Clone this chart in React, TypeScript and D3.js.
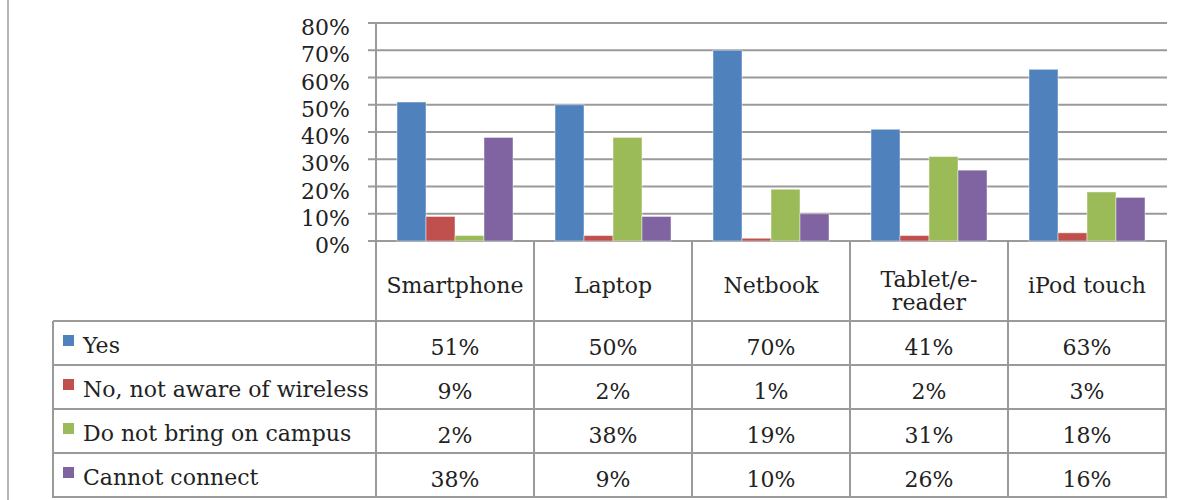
import { useEffect, useRef } from "react";
import * as d3 from "d3";

const categories = ["Smartphone", "Laptop", "Netbook", "Tablet/e-reader", "iPod touch"];
const categoryLines: Record<string, string[]> = {
  "Tablet/e-reader": ["Tablet/e-", "reader"],
};
const seriesNames = ["Yes", "No, not aware of wireless", "Do not bring on campus", "Cannot connect"];
const seriesColors = ["#4F81BD", "#C0504D", "#9BBB59", "#8064A2"];
const yesValues = [0.51, 0.5, 0.7, 0.41, 0.63];
const notAwareValues = [0.09, 0.02, 0.01, 0.02, 0.03];
const notBringValues = [0.02, 0.38, 0.19, 0.31, 0.18];
const cannotConnectValues = [0.38, 0.09, 0.1, 0.26, 0.16];
const yTicks = [0, 0.1, 0.2, 0.3, 0.4, 0.5, 0.6, 0.7, 0.8];

const W = 1183;
const H = 500;
const FONT = "'DejaVu Serif', serif";
const LINE = "#9a9a9a";

export default function App() {
  const svgRef = useRef<SVGSVGElement>(null);

  useEffect(() => {
    if (!svgRef.current) return;
    const svg = d3.select(svgRef.current);
    svg.selectAll("*").remove();

    const allSeries = [yesValues, notAwareValues, notBringValues, cannotConnectValues];

    const plotLeft = 376;
    const plotRight = 1166;
    const plotTop = 23;
    const plotBottom = 241;
    const rowTop = 321;
    const rowH = 44;
    const tableLeft = 53;

    const x0 = d3.scaleBand<string>().domain(categories).range([plotLeft, plotRight]).padding(0);
    const x1 = d3
      .scaleBand<string>()
      .domain(seriesNames)
      .range([21, x0.bandwidth() - 21])
      .padding(0);
    const y = d3.scaleLinear().domain([0, 0.8]).range([plotBottom, plotTop]);

    // outer left border of the chart frame
    svg
      .append("line")
      .attr("x1", 8)
      .attr("x2", 8)
      .attr("y1", 0)
      .attr("y2", H)
      .attr("stroke", "#b5b5b5")
      .attr("stroke-width", 2);

    // gridlines + y ticks
    svg
      .append("g")
      .selectAll("line")
      .data(yTicks)
      .enter()
      .append("line")
      .attr("x1", plotLeft - 8)
      .attr("x2", plotRight + 1)
      .attr("y1", (d) => y(d))
      .attr("y2", (d) => y(d))
      .attr("stroke", LINE)
      .attr("stroke-width", 2);

    svg
      .append("g")
      .selectAll("text")
      .data(yTicks)
      .enter()
      .append("text")
      .attr("x", 350)
      .attr("y", (d) => y(d) + 12)
      .attr("text-anchor", "end")
      .style("font-family", FONT)
      .style("font-size", "22px")
      .style("fill", "#222")
      .text((d) => d3.format(".0%")(d));

    // bars
    const groups = svg
      .append("g")
      .selectAll("g")
      .data(categories)
      .enter()
      .append("g")
      .attr("transform", (d) => `translate(${x0(d)},0)`);

    groups
      .selectAll("rect")
      .data((_d, ci) => allSeries.map((s, si) => ({ name: seriesNames[si], value: s[ci], color: seriesColors[si] })))
      .enter()
      .append("rect")
      .attr("x", (d) => x1(d.name)!)
      .attr("y", (d) => y(d.value))
      .attr("width", x1.bandwidth())
      .attr("height", (d) => plotBottom - y(d.value))
      .attr("fill", (d) => d.color)
      .attr("stroke", "rgba(255,255,255,0.45)")
      .attr("stroke-width", 1);

    // table lines
    const tableBottom = rowTop + rowH * seriesNames.length;
    const hLines = d3.range(seriesNames.length + 1).map((i) => rowTop + i * rowH);
    svg
      .append("g")
      .selectAll("line")
      .data(hLines)
      .enter()
      .append("line")
      .attr("x1", tableLeft)
      .attr("x2", plotRight + 1)
      .attr("y1", (d) => d)
      .attr("y2", (d) => d)
      .attr("stroke", LINE)
      .attr("stroke-width", 2);

    const vLines = [...categories.map((c) => x0(c)!), plotRight];
    svg
      .append("g")
      .selectAll("line")
      .data(vLines)
      .enter()
      .append("line")
      .attr("x1", (d) => d)
      .attr("x2", (d) => d)
      .attr("y1", (_d, i) => (i === 0 ? plotTop - 1 : plotBottom))
      .attr("y2", tableBottom + 1)
      .attr("stroke", LINE)
      .attr("stroke-width", 2);

    svg
      .append("line")
      .attr("x1", tableLeft)
      .attr("x2", tableLeft)
      .attr("y1", rowTop)
      .attr("y2", tableBottom + 1)
      .attr("stroke", LINE)
      .attr("stroke-width", 2);

    // category header labels
    const header = svg
      .append("g")
      .selectAll("text")
      .data(categories)
      .enter()
      .append("text")
      .attr("text-anchor", "middle")
      .style("font-family", FONT)
      .style("font-size", "22px")
      .style("fill", "#222");
    header.each(function (c) {
      const lines = categoryLines[c] ?? [c];
      const cx = x0(c)! + x0.bandwidth() / 2;
      const startY = lines.length === 1 ? 293 : 287;
      lines.forEach((ln, j) => {
        d3.select(this)
          .append("tspan")
          .attr("x", cx)
          .attr("y", startY + j * 23)
          .text(ln);
      });
    });

    // legend rows
    const rows = svg
      .append("g")
      .selectAll("g")
      .data(seriesNames)
      .enter()
      .append("g")
      .attr("transform", (_d, i) => `translate(0,${rowTop + i * rowH})`);

    rows
      .append("rect")
      .attr("x", 63)
      .attr("y", 14)
      .attr("width", 11)
      .attr("height", 11)
      .attr("fill", (_d, i) => seriesColors[i]);

    rows
      .append("text")
      .attr("x", 83)
      .attr("y", 32)
      .style("font-family", FONT)
      .style("font-size", "22px")
      .style("fill", "#222")
      .text((d) => d);

    rows
      .selectAll("text.val")
      .data((_d, si) => allSeries[si].map((v, ci) => ({ v, c: categories[ci] })))
      .enter()
      .append("text")
      .attr("class", "val")
      .attr("x", (d) => x0(d.c)! + x0.bandwidth() / 2)
      .attr("y", 34)
      .attr("text-anchor", "middle")
      .style("font-family", FONT)
      .style("font-size", "22px")
      .style("fill", "#222")
      .text((d) => d3.format(".0%")(d.v));
  }, []);

  return (
    <svg
      ref={svgRef}
      width={W}
      height={H}
      style={{ position: "absolute", left: 0, top: 0, background: "#fff", display: "block" }}
    />
  );
}
